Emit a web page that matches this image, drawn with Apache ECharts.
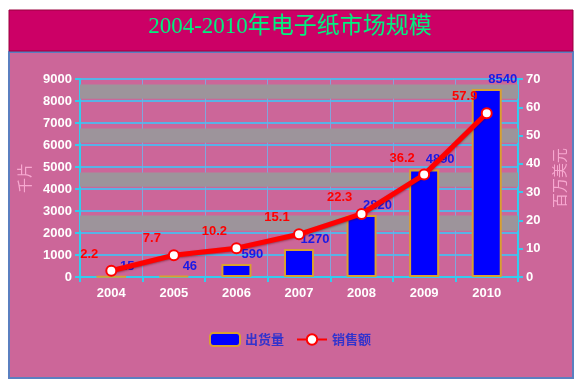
<!DOCTYPE html>
<html><head><meta charset="utf-8">
<script src="https://cdn.jsdelivr.net/npm/echarts@6/dist/echarts.min.js"></script>
<style>html,body{margin:0;padding:0;background:#fff}#c{width:580px;height:390px}</style>
</head><body><div id="c"></div>
<script>
var years = ['2004','2005','2006','2007','2008','2009','2010'];
var shipments = [15, 46, 590, 1270, 2820, 4890, 8540];
var sales = [2.2, 7.7, 10.2, 15.1, 22.3, 36.2, 57.9];
var titleText = '2004-2010年电子纸市场规模';
var leftName = '千片', rightName = '百万美元';
var barName = '出货量', lineName = '销售额';
var grayBandStarts = [2100, 4100, 6100, 8100];
var grayBandEnds = [2800, 4750, 6750, 8750];

var chart = echarts.init(document.getElementById('c'));
var cyan = '#33ccee';
var bands = grayBandStarts.map(function(s, i){ return [{yAxis:s}, {yAxis:grayBandEnds[i]}]; });
chart.setOption({
  animation: false,
  backgroundColor: '#ffffff',
  graphic: [
    {type:'rect', shape:{x:9,y:52,width:564,height:326}, style:{fill:'#cc6699', stroke:'#5b7fc0', lineWidth:2}, z:-10},
    {type:'rect', shape:{x:9,y:10,width:564,height:41}, style:{fill:'#cc0066', stroke:'#99003d', lineWidth:1}, z:-10},
    {type:'text', left:'center', top:15, style:{text:titleText, fill:'#00f080', font:'23px "Liberation Serif", "Noto Sans CJK SC", serif'}}
  ],
  legend: {
    bottom: 38, left: 'center', itemGap: 12, itemWidth: 30, itemHeight: 13,
    textStyle: {color:'#3333cc', fontWeight:'bold', fontSize:13, fontFamily:'"Noto Sans CJK SC"'},
    data: [barName, lineName]
  },
  grid: {left:80, right:62, top:79, bottom:113},
  xAxis: {
    type:'category', data: years, boundaryGap: true,
    axisLine:{lineStyle:{color:cyan, width:2}},
    axisTick:{show:true, length:5, lineStyle:{color:cyan, width:2}},
    axisLabel:{color:'#ffffff', fontWeight:'bold', fontSize:13, fontFamily:'"Liberation Sans", Arial', margin:10},
    splitLine:{show:true, lineStyle:{color:'#7fa6dd', width:1}},
    splitArea:{show:false}
  },
  yAxis: [
    {type:'value', min:0, max:9000, interval:1000, name:leftName, nameLocation:'middle', nameGap:42, nameRotate:90,
     nameTextStyle:{color:'#f7a8d0', fontSize:15, fontFamily:'"Noto Sans CJK SC"'},
     axisLine:{show:true, lineStyle:{color:cyan, width:2}},
     axisTick:{show:true, length:5, lineStyle:{color:cyan, width:2}},
     axisLabel:{color:'#ffffff', fontWeight:'bold', fontSize:13, fontFamily:'"Liberation Sans", Arial', margin:8,
       formatter:function(v){return String(v);}},
     splitLine:{show:true, lineStyle:{color:'#33ccff', width:1.5}},
     splitArea:{show:false}
    },
    {type:'value', min:0, max:70, interval:10, name:rightName, nameLocation:'middle', nameGap:24, nameRotate:90,
     nameTextStyle:{color:'#f7a8d0', fontSize:15, fontFamily:'"Noto Sans CJK SC"'},
     axisLine:{show:true, lineStyle:{color:cyan, width:2}},
     axisTick:{show:true, length:5, lineStyle:{color:cyan, width:2}},
     axisLabel:{color:'#ffffff', fontWeight:'bold', fontSize:13, fontFamily:'"Liberation Sans", Arial', margin:8},
     splitLine:{show:false}, splitArea:{show:false}
    }
  ],
  series: [
    {name:'bands', type:'line', data:[], yAxisIndex:0, z:0, silent:true,
     markArea:{silent:true, itemStyle:{color:'#9d949b'}, data:bands}
    },
    {name:barName, type:'bar', data:shipments, yAxisIndex:0, barWidth:'48%', z:3,
     itemStyle:{color:'#0000ff', borderColor:'#d9a030', borderWidth:2},
     label:{show:true, position:'top', offset:[16,2], color:'#1a1ae6', fontWeight:'bold', fontSize:13, fontFamily:'"Liberation Sans", Arial'}
    },
    {name:lineName, type:'line', data:sales, yAxisIndex:1, symbol:'circle', symbolSize:10,
     lineStyle:{color:'#ff0000', width:5, shadowColor:'rgba(80,0,0,0.4)', shadowOffsetY:1, shadowBlur:2},
     itemStyle:{color:'#ffffff', borderColor:'#ff0000', borderWidth:2},
     label:{show:true, position:'top', offset:[-22,1], color:'#ff0000', fontWeight:'bold', fontSize:13, fontFamily:'"Liberation Sans", Arial'},
     z:5
    }
  ]
});
</script></body></html>
